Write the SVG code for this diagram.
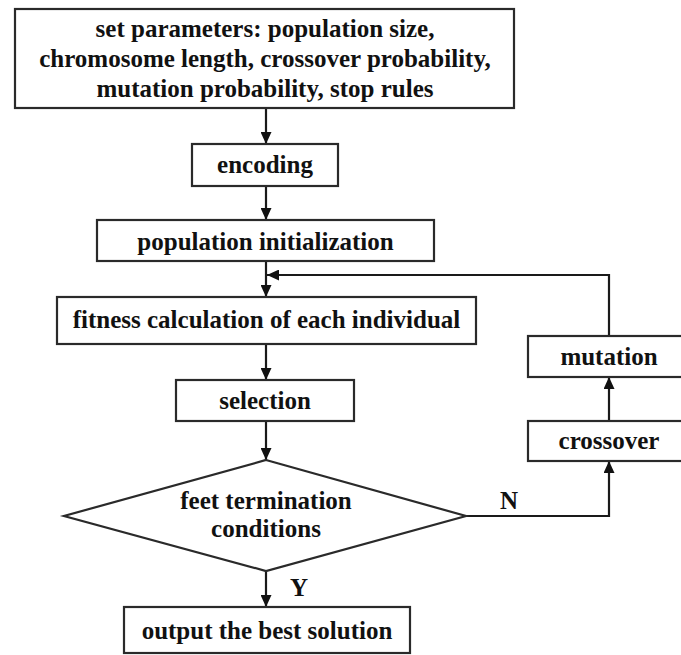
<svg xmlns="http://www.w3.org/2000/svg" width="681" height="655" viewBox="0 0 681 655">
<style>
.box{fill:#fff;stroke:#2a2a2a;stroke-width:2.2}
.t{font-family:"Liberation Serif","Times New Roman",serif;font-weight:bold;font-size:25px;fill:#111;text-anchor:middle}
.c{fill:none;stroke:#1a1a1a;stroke-width:2.2}
</style>
<defs>
<marker id="ah" markerUnits="userSpaceOnUse" markerWidth="12" markerHeight="11" refX="12" refY="5.5" orient="auto">
<path d="M0,0 L12,5.5 L0,11 z" fill="#111"/>
</marker>
</defs>
<rect width="681" height="655" fill="#fff"/>
<g id="connectors">
<path class="c" d="M266,108 V144" marker-end="url(#ah)"/>
<path class="c" d="M266,186 V220" marker-end="url(#ah)"/>
<path class="c" d="M266,261 V297" marker-end="url(#ah)"/>
<path class="c" d="M609,336 V275 H267" marker-end="url(#ah)"/>
<path class="c" d="M266,344 V380" marker-end="url(#ah)"/>
<path class="c" d="M266,421 V460" marker-end="url(#ah)"/>
<path class="c" d="M466,516 H609 V461" marker-end="url(#ah)"/>
<path class="c" d="M609,421 V377" marker-end="url(#ah)"/>
<path class="c" d="M266,571 V607" marker-end="url(#ah)"/>
<text class="t" x="509" y="509">N</text>
<text class="t" x="299" y="596">Y</text>
</g>
<g id="params">
<rect class="box" x="15" y="9" width="499" height="99"/>
<text class="t" x="265" y="37">set parameters: population size,</text>
<text class="t" x="265" y="67">chromosome length, crossover probability,</text>
<text class="t" x="265" y="97">mutation probability, stop rules</text>
</g>
<g id="encoding">
<rect class="box" x="192" y="144" width="146" height="42"/>
<text class="t" x="265" y="173">encoding</text>
</g>
<g id="init">
<rect class="box" x="97" y="220" width="337" height="41"/>
<text class="t" x="265.5" y="250">population initialization</text>
</g>
<g id="fitness">
<rect class="box" x="57" y="297" width="419" height="47"/>
<text class="t" x="266.5" y="328">fitness calculation of each individual</text>
</g>
<g id="selection">
<rect class="box" x="176" y="380" width="178" height="41"/>
<text class="t" x="265" y="409">selection</text>
</g>
<g id="decision">
<polygon class="box" points="266,460 466,516 266,571 64,516"/>
<text class="t" x="266" y="509">feet termination</text>
<text class="t" x="266" y="537">conditions</text>
</g>
<g id="mutation">
<rect class="box" x="528" y="336" width="162" height="41"/>
<text class="t" x="609" y="365">mutation</text>
</g>
<g id="crossover">
<rect class="box" x="528" y="421" width="162" height="40"/>
<text class="t" x="609" y="449">crossover</text>
</g>
<g id="output">
<rect class="box" x="124" y="607" width="286" height="46"/>
<text class="t" x="267" y="639">output the best solution</text>
</g>
</svg>
